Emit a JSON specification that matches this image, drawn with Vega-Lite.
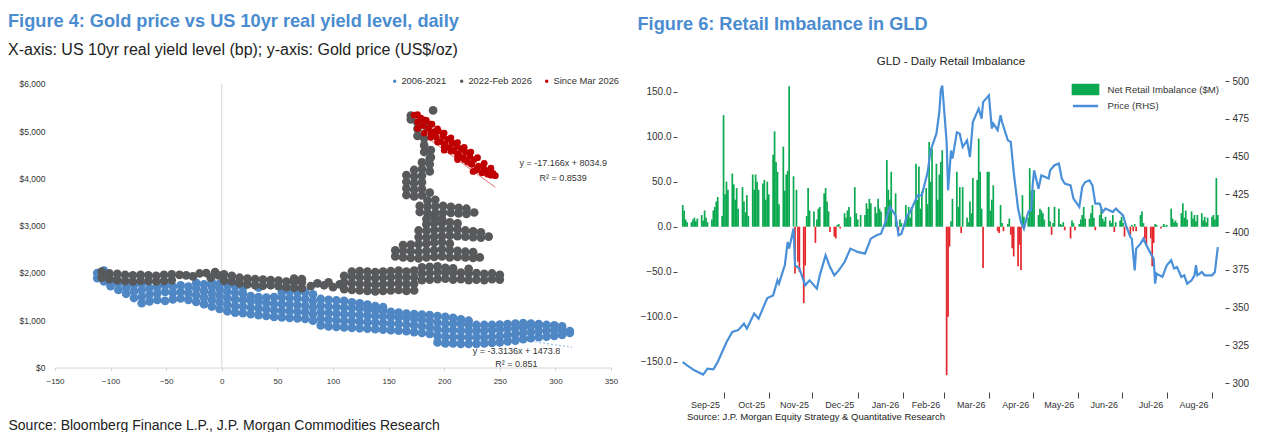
{
  "$schema": "https://vega.github.io/schema/vega-lite/v6.json",
  "background": "white",
  "padding": {"left": 8, "top": 11, "right": 0, "bottom": 0},
  "spacing": 17,
  "resolve": {"scale": {"color": "independent"}, "legend": {"color": "independent"}},
  "config": {
    "view": {"stroke": null},
    "font": "Liberation Sans, Arial, sans-serif",
    "axis": {"grid": false, "labelColor": "#333333", "titleColor": "#222222", "titleFontWeight": "normal", "labelFont": "Liberation Sans, Arial, sans-serif", "titleFont": "Liberation Sans, Arial, sans-serif"},
    "title": {"anchor": "start", "color": "#4a8ccf", "fontWeight": "bold", "fontSize": 18.2, "font": "Liberation Sans, Arial, sans-serif", "subtitleFont": "Liberation Sans, Arial, sans-serif", "subtitleFontSize": 16, "subtitleColor": "#222222"},
    "legend": {"labelFont": "Liberation Sans, Arial, sans-serif", "labelColor": "#333333"}
  },
  "hconcat": [
    {
      "title": {"text": "Figure 4: Gold price vs US 10yr real yield level, daily", "subtitle": "X-axis: US 10yr real yield level (bp); y-axis: Gold price (US$/oz)", "subtitlePadding": 11, "offset": 17},
      "width": 556,
      "height": 286.5,
      "layer": [
        {
          "data": {"values": [{}]},
          "mark": {"type": "rule", "color": "#d4d4d4", "strokeWidth": 1},
          "encoding": {"x": {"datum": 0, "type": "quantitative"}, "y": {"datum": 0, "type": "quantitative"}, "y2": {"datum": 6000}}
        },
        {
          "data": {"values": [{"x": -110, "y": 1838}, {"x": 315, "y": 430}]},
          "mark": {"type": "line", "color": "#9cc2e8", "strokeDash": [2, 2], "strokeWidth": 1.2},
          "encoding": {"x": {"field": "x", "type": "quantitative"}, "y": {"field": "y", "type": "quantitative"}}
        },
        {
          "data": {"values": [{"x": 173, "y": 5065}, {"x": 246, "y": 3812}]},
          "mark": {"type": "line", "color": "#e07070", "strokeWidth": 1},
          "encoding": {"x": {"field": "x", "type": "quantitative"}, "y": {"field": "y", "type": "quantitative"}}
        },
        {
          "data": {"values": [
            {"x":-112,"y":1890},{"x":-112,"y":2000},
            {"x":-106,"y":1820},{"x":-106,"y":1960},{"x":-106,"y":2050},
            {"x":-100,"y":1720},{"x":-100,"y":1850},
            {"x":-93,"y":1640},{"x":-93,"y":1780},
            {"x":-86,"y":1560},{"x":-86,"y":1690},{"x":-86,"y":1810},
            {"x":-79,"y":1470},{"x":-79,"y":1610},{"x":-79,"y":1750},
            {"x":-72,"y":1360},{"x":-72,"y":1500},{"x":-72,"y":1640},{"x":-72,"y":1770},
            {"x":-65,"y":1400},{"x":-65,"y":1540},{"x":-65,"y":1680},
            {"x":-58,"y":1430},{"x":-58,"y":1570},{"x":-58,"y":1710},
            {"x":-51,"y":1410},{"x":-51,"y":1600},{"x":-51,"y":1740},
            {"x":-44,"y":1440},{"x":-44,"y":1580},{"x":-44,"y":1710},
            {"x":-37,"y":1460},{"x":-37,"y":1600},{"x":-37,"y":1740},
            {"x":-30,"y":1430},{"x":-30,"y":1570},{"x":-30,"y":1710},
            {"x":-23,"y":1390},{"x":-23,"y":1530},{"x":-23,"y":1670},{"x":-23,"y":1790},
            {"x":-16,"y":1340},{"x":-16,"y":1480},{"x":-16,"y":1620},{"x":-16,"y":1760},
            {"x":-9,"y":1290},{"x":-9,"y":1430},{"x":-9,"y":1570},{"x":-9,"y":1710},{"x":-9,"y":1800},
            {"x":-2,"y":1240},{"x":-2,"y":1380},{"x":-2,"y":1520},{"x":-2,"y":1660},{"x":-2,"y":1770},
            {"x":5,"y":1190},{"x":5,"y":1330},{"x":5,"y":1470},{"x":5,"y":1610},{"x":5,"y":1750},
            {"x":12,"y":1160},{"x":12,"y":1300},{"x":12,"y":1440},{"x":12,"y":1580},{"x":12,"y":1720},
            {"x":19,"y":1150},{"x":19,"y":1290},{"x":19,"y":1430},{"x":19,"y":1570},{"x":19,"y":1690},
            {"x":26,"y":1130},{"x":26,"y":1270},{"x":26,"y":1410},{"x":26,"y":1510},
            {"x":33,"y":1110},{"x":33,"y":1250},{"x":33,"y":1390},{"x":33,"y":1490},{"x":33,"y":1690},
            {"x":40,"y":1090},{"x":40,"y":1230},{"x":40,"y":1370},{"x":40,"y":1480},
            {"x":47,"y":1070},{"x":47,"y":1210},{"x":47,"y":1350},{"x":47,"y":1490},
            {"x":54,"y":1060},{"x":54,"y":1200},{"x":54,"y":1340},{"x":54,"y":1480},{"x":54,"y":1590},
            {"x":61,"y":1050},{"x":61,"y":1190},{"x":61,"y":1330},{"x":61,"y":1470},{"x":61,"y":1610},
            {"x":68,"y":1040},{"x":68,"y":1180},{"x":68,"y":1320},{"x":68,"y":1460},{"x":68,"y":1590},
            {"x":75,"y":1030},{"x":75,"y":1170},{"x":75,"y":1310},{"x":75,"y":1450},{"x":75,"y":1590},
            {"x":82,"y":990},{"x":82,"y":1130},{"x":82,"y":1270},{"x":82,"y":1410},{"x":82,"y":1550},
            {"x":89,"y":890},{"x":89,"y":1030},{"x":89,"y":1170},{"x":89,"y":1310},{"x":89,"y":1450},
            {"x":96,"y":870},{"x":96,"y":1010},{"x":96,"y":1150},{"x":96,"y":1290},{"x":96,"y":1430},
            {"x":103,"y":860},{"x":103,"y":1000},{"x":103,"y":1140},{"x":103,"y":1280},{"x":103,"y":1420},
            {"x":110,"y":850},{"x":110,"y":990},{"x":110,"y":1130},{"x":110,"y":1270},{"x":110,"y":1410},
            {"x":117,"y":840},{"x":117,"y":980},{"x":117,"y":1120},{"x":117,"y":1260},{"x":117,"y":1380},
            {"x":124,"y":830},{"x":124,"y":970},{"x":124,"y":1110},{"x":124,"y":1250},{"x":124,"y":1360},
            {"x":131,"y":820},{"x":131,"y":960},{"x":131,"y":1100},{"x":131,"y":1230},{"x":131,"y":1330},
            {"x":138,"y":810},{"x":138,"y":950},{"x":138,"y":1090},{"x":138,"y":1210},{"x":138,"y":1300},
            {"x":145,"y":800},{"x":145,"y":940},{"x":145,"y":1080},{"x":145,"y":1200},{"x":145,"y":1280},
            {"x":152,"y":790},{"x":152,"y":930},{"x":152,"y":1070},{"x":152,"y":1180},
            {"x":159,"y":780},{"x":159,"y":920},{"x":159,"y":1060},{"x":159,"y":1160},
            {"x":166,"y":770},{"x":166,"y":910},{"x":166,"y":1050},{"x":166,"y":1140},
            {"x":173,"y":750},{"x":173,"y":890},{"x":173,"y":1030},{"x":173,"y":1130},
            {"x":180,"y":730},{"x":180,"y":870},{"x":180,"y":1010},{"x":180,"y":1120},
            {"x":187,"y":710},{"x":187,"y":850},{"x":187,"y":990},{"x":187,"y":1110},
            {"x":194,"y":530},{"x":194,"y":670},{"x":194,"y":810},{"x":194,"y":950},{"x":194,"y":1090},
            {"x":201,"y":510},{"x":201,"y":650},{"x":201,"y":790},{"x":201,"y":930},{"x":201,"y":1070},
            {"x":208,"y":510},{"x":208,"y":650},{"x":208,"y":790},{"x":208,"y":930},{"x":208,"y":1050},
            {"x":215,"y":500},{"x":215,"y":640},{"x":215,"y":780},{"x":215,"y":920},{"x":215,"y":1020},
            {"x":222,"y":500},{"x":222,"y":640},{"x":222,"y":780},{"x":222,"y":900},{"x":222,"y":990},
            {"x":229,"y":500},{"x":229,"y":640},{"x":229,"y":780},{"x":229,"y":900},
            {"x":236,"y":510},{"x":236,"y":640},{"x":236,"y":780},{"x":236,"y":900},
            {"x":243,"y":520},{"x":243,"y":650},{"x":243,"y":790},{"x":243,"y":900},
            {"x":250,"y":530},{"x":250,"y":660},{"x":250,"y":800},{"x":250,"y":910},
            {"x":257,"y":550},{"x":257,"y":680},{"x":257,"y":820},{"x":257,"y":920},
            {"x":264,"y":570},{"x":264,"y":700},{"x":264,"y":830},{"x":264,"y":930},
            {"x":271,"y":600},{"x":271,"y":730},{"x":271,"y":850},{"x":271,"y":940},
            {"x":278,"y":620},{"x":278,"y":750},{"x":278,"y":870},{"x":278,"y":930},
            {"x":285,"y":640},{"x":285,"y":770},{"x":285,"y":890},{"x":285,"y":920},
            {"x":292,"y":650},{"x":292,"y":780},{"x":292,"y":900},
            {"x":299,"y":670},{"x":299,"y":790},{"x":299,"y":890},
            {"x":306,"y":690},{"x":306,"y":800},{"x":306,"y":870},
            {"x":313,"y":730},{"x":313,"y":770}
          ]},
          "mark": {"type": "circle", "size": 76, "opacity": 1},
          "encoding": {
            "x": {"field": "x", "type": "quantitative", "scale": {"domain": [-150, 350], "nice": false, "zero": false},
              "axis": {"values": [-150, -100, -50, 0, 50, 100, 150, 200, 250, 300, 350], "domainColor": "#d4d4d4", "tickColor": "#d4d4d4", "tickSize": 3, "labelFontSize": 8, "labelPadding": 7, "labelFlush": false,
                "title": "Source: Bloomberg Finance L.P., J.P. Morgan Commodities Research", "titleFontSize": 14, "titleAnchor": "start", "titleAlign": "left", "titleBaseline": "middle", "titleX": -47, "titleY": 57.5}},
            "y": {"field": "y", "type": "quantitative", "scale": {"domain": [0, 6063], "nice": false},
              "axis": {"values": [0, 1000, 2000, 3000, 4000, 5000, 6000], "format": "$,.0f", "domain": false, "ticks": false, "labelPadding": 10, "labelFontSize": 8.5, "minExtent": 47, "maxExtent": 47, "title": null}},
            "color": {"datum": "2006-2021", "type": "nominal",
              "scale": {"domain": ["2006-2021", "2022-Feb 2026", "Since Mar 2026"], "range": ["#4f87c4", "#58595b", "#c00000"]},
              "legend": {"title": null, "orient": "none", "legendX": 335, "legendY": -5, "direction": "horizontal", "symbolType": "circle", "symbolSize": 12, "labelFontSize": 9.4, "labelOffset": 2, "columnPadding": 10, "padding": 0}}
          }
        },
        {
          "data": {"values": [
            {"x":-108,"y":1900},{"x":-108,"y":2030},{"x":-101,"y":1870},{"x":-101,"y":1990},
            {"x":-94,"y":1850},{"x":-94,"y":1980},{"x":-87,"y":1830},{"x":-87,"y":1960},
            {"x":-80,"y":1820},{"x":-80,"y":1950},{"x":-73,"y":1840},{"x":-73,"y":1960},
            {"x":-66,"y":1830},{"x":-66,"y":1950},{"x":-59,"y":1820},{"x":-59,"y":1940},
            {"x":-52,"y":1830},{"x":-52,"y":1960},{"x":-45,"y":1850},{"x":-45,"y":1970},
            {"x":-38,"y":1960},{"x":-32,"y":1950},{"x":-26,"y":1930},{"x":-20,"y":1990},
            {"x":-14,"y":2000},{"x":-10,"y":1900},{"x":-6,"y":2020},{"x":-3,"y":1950},
            {"x":2,"y":1840},{"x":2,"y":1970},{"x":9,"y":1820},{"x":9,"y":1940},
            {"x":16,"y":1780},{"x":16,"y":1900},{"x":23,"y":1760},{"x":23,"y":1880},
            {"x":30,"y":1740},{"x":30,"y":1870},{"x":37,"y":1730},{"x":37,"y":1860},
            {"x":44,"y":1740},{"x":44,"y":1850},{"x":51,"y":1720},{"x":51,"y":1840},
            {"x":58,"y":1700},{"x":58,"y":1820},{"x":65,"y":1690},{"x":65,"y":1810},{"x":65,"y":1880},
            {"x":72,"y":1680},{"x":72,"y":1800},{"x":72,"y":1870},
            {"x":80,"y":1720},{"x":86,"y":1780},{"x":92,"y":1740},{"x":96,"y":1800},{"x":100,"y":1700},{"x":106,"y":1760},
            {"x":110,"y":1660},{"x":110,"y":1800},{"x":110,"y":1940},
            {"x":117,"y":1640},{"x":117,"y":1780},{"x":117,"y":1920},{"x":117,"y":2030},
            {"x":124,"y":1630},{"x":124,"y":1770},{"x":124,"y":1910},{"x":124,"y":2040},
            {"x":131,"y":1620},{"x":131,"y":1760},{"x":131,"y":1900},{"x":131,"y":2030},
            {"x":138,"y":1610},{"x":138,"y":1750},{"x":138,"y":1890},{"x":138,"y":2020},
            {"x":145,"y":1620},{"x":145,"y":1760},{"x":145,"y":1900},{"x":145,"y":2030},
            {"x":152,"y":1630},{"x":152,"y":1770},{"x":152,"y":1910},{"x":152,"y":2040},
            {"x":159,"y":1640},{"x":159,"y":1780},{"x":159,"y":1920},{"x":159,"y":2050},
            {"x":166,"y":1620},{"x":166,"y":1760},{"x":166,"y":1900},{"x":166,"y":2030},
            {"x":173,"y":1630},{"x":173,"y":1770},{"x":173,"y":1910},{"x":173,"y":2050},
            {"x":180,"y":1850},{"x":180,"y":1990},{"x":180,"y":2120},
            {"x":187,"y":1860},{"x":187,"y":2000},{"x":187,"y":2130},
            {"x":194,"y":1870},{"x":194,"y":2010},{"x":194,"y":2140},
            {"x":201,"y":1880},{"x":201,"y":2020},{"x":201,"y":2110},
            {"x":208,"y":1860},{"x":208,"y":2000},{"x":208,"y":2100},
            {"x":215,"y":1870},{"x":215,"y":2010},
            {"x":222,"y":1850},{"x":222,"y":1990},{"x":222,"y":2090},
            {"x":229,"y":1860},{"x":229,"y":2000},{"x":236,"y":1850},{"x":236,"y":1980},
            {"x":243,"y":1870},{"x":243,"y":1990},{"x":250,"y":1860},{"x":250,"y":1960},
            {"x":156,"y":2350},{"x":156,"y":2480},
            {"x":163,"y":2330},{"x":163,"y":2470},{"x":163,"y":2590},
            {"x":170,"y":2320},{"x":170,"y":2460},{"x":170,"y":2600},
            {"x":177,"y":2310},{"x":177,"y":2450},{"x":177,"y":2610},
            {"x":184,"y":2330},{"x":184,"y":2470},{"x":184,"y":2620},
            {"x":191,"y":2340},{"x":191,"y":2480},{"x":191,"y":2640},
            {"x":198,"y":2350},{"x":198,"y":2500},{"x":198,"y":2650},
            {"x":205,"y":2330},{"x":205,"y":2480},{"x":205,"y":2620},
            {"x":212,"y":2340},{"x":212,"y":2470},{"x":219,"y":2330},{"x":219,"y":2450},
            {"x":226,"y":2320},{"x":226,"y":2440},{"x":232,"y":2330},
            {"x":177,"y":2760},{"x":177,"y":2900},
            {"x":184,"y":2750},{"x":184,"y":2890},{"x":184,"y":3030},{"x":184,"y":3140},
            {"x":191,"y":2770},{"x":191,"y":2910},{"x":191,"y":3050},{"x":191,"y":3160},
            {"x":198,"y":2780},{"x":198,"y":2920},{"x":198,"y":3060},{"x":198,"y":3150},
            {"x":205,"y":2790},{"x":205,"y":2930},{"x":205,"y":3070},
            {"x":212,"y":2780},{"x":212,"y":2920},{"x":212,"y":3050},
            {"x":219,"y":2770},{"x":219,"y":2900},{"x":226,"y":2760},{"x":226,"y":2880},
            {"x":233,"y":2750},{"x":233,"y":2860},{"x":240,"y":2770},
            {"x":178,"y":3290},{"x":178,"y":3420},
            {"x":185,"y":3260},{"x":185,"y":3400},{"x":185,"y":3530},
            {"x":192,"y":3270},{"x":192,"y":3410},{"x":192,"y":3550},
            {"x":199,"y":3280},{"x":199,"y":3420},{"x":206,"y":3270},{"x":206,"y":3400},
            {"x":213,"y":3260},{"x":213,"y":3380},{"x":220,"y":3250},{"x":220,"y":3360},{"x":227,"y":3280},
            {"x":166,"y":3650},{"x":166,"y":3790},{"x":166,"y":3930},{"x":166,"y":4070},
            {"x":173,"y":3620},{"x":173,"y":3760},{"x":173,"y":3900},{"x":173,"y":4040},{"x":173,"y":4180},
            {"x":180,"y":3640},{"x":180,"y":3780},{"x":180,"y":3920},{"x":180,"y":4060},{"x":180,"y":4200},{"x":180,"y":4340},
            {"x":187,"y":3700},{"x":187,"y":4150},{"x":187,"y":4300},{"x":187,"y":4420},
            {"x":170,"y":5330},{"x":170,"y":5250},{"x":176,"y":5180},{"x":176,"y":5050},{"x":176,"y":4900},
            {"x":182,"y":4560},{"x":182,"y":4700},{"x":182,"y":4850},{"x":188,"y":4450},{"x":188,"y":4600},
            {"x":184,"y":5100},{"x":190,"y":5440}
          ]},
          "mark": {"type": "circle", "size": 76, "opacity": 1},
          "encoding": {
            "x": {"field": "x", "type": "quantitative"},
            "y": {"field": "y", "type": "quantitative"},
            "color": {"datum": "2022-Feb 2026", "type": "nominal"}
          }
        },
        {
          "data": {"values": [
            {"x":173,"y":5340},{"x":176,"y":5200},{"x":179,"y":5280},{"x":181,"y":5120},{"x":184,"y":5230},
            {"x":186,"y":5060},{"x":189,"y":5150},{"x":191,"y":4990},{"x":193,"y":4870},{"x":195,"y":5000},
            {"x":197,"y":4780},{"x":199,"y":4900},{"x":201,"y":4720},{"x":203,"y":4830},{"x":205,"y":4650},
            {"x":207,"y":4760},{"x":209,"y":4580},{"x":211,"y":4690},{"x":213,"y":4520},{"x":215,"y":4630},
            {"x":217,"y":4440},{"x":219,"y":4560},{"x":221,"y":4350},{"x":223,"y":4470},{"x":225,"y":4300},
            {"x":227,"y":4400},{"x":229,"y":4180},{"x":231,"y":4260},{"x":234,"y":4120},{"x":236,"y":4200},
            {"x":239,"y":4090},{"x":241,"y":4170},{"x":244,"y":4110},{"x":246,"y":4060},{"x":188,"y":4950},
            {"x":200,"y":4600},{"x":212,"y":4400},{"x":226,"y":4150},
            {"x":176,"y":5350},{"x":176,"y":5060},{"x":182,"y":5240},{"x":182,"y":4960},{"x":188,"y":5150},{"x":188,"y":4870},
            {"x":194,"y":5050},{"x":194,"y":4770},{"x":200,"y":4960},{"x":200,"y":4680},{"x":206,"y":4860},{"x":206,"y":4580},
            {"x":212,"y":4760},{"x":212,"y":4480},{"x":218,"y":4660},{"x":218,"y":4400},{"x":224,"y":4560},{"x":224,"y":4310},
            {"x":230,"y":4440},{"x":230,"y":4220},{"x":236,"y":4320},{"x":236,"y":4140},{"x":242,"y":4220},{"x":242,"y":4070}
          ]},
          "mark": {"type": "circle", "size": 45, "opacity": 1},
          "encoding": {
            "x": {"field": "x", "type": "quantitative"},
            "y": {"field": "y", "type": "quantitative"},
            "color": {"datum": "Since Mar 2026", "type": "nominal"}
          }
        },
        {
          "data": {"values": [{}]},
          "mark": {"type": "text", "fontSize": 9, "color": "#333333"},
          "encoding": {"x": {"datum": 307, "type": "quantitative"}, "y": {"datum": 4323, "type": "quantitative"}, "text": {"value": "y = -17.166x + 8034.9"}}
        },
        {
          "data": {"values": [{}]},
          "mark": {"type": "text", "fontSize": 9, "color": "#333333"},
          "encoding": {"x": {"datum": 307, "type": "quantitative"}, "y": {"datum": 4006, "type": "quantitative"}, "text": {"value": "R² = 0.8539"}}
        },
        {
          "data": {"values": [{}]},
          "mark": {"type": "text", "fontSize": 9, "color": "#333333"},
          "encoding": {"x": {"datum": 265, "type": "quantitative"}, "y": {"datum": 349, "type": "quantitative"}, "text": {"value": "y = -3.3136x + 1473.8"}}
        },
        {
          "data": {"values": [{}]},
          "mark": {"type": "text", "fontSize": 9, "color": "#333333"},
          "encoding": {"x": {"datum": 265, "type": "quantitative"}, "y": {"datum": 74, "type": "quantitative"}, "text": {"value": "R² = 0.851"}}
        }
      ]
    },
    {
      "title": {"text": "Figure 6: Retail Imbalance in GLD", "offset": 22},
      "vconcat": [
        {
          "title": {"text": "GLD - Daily Retail Imbalance", "anchor": "middle", "frame": "group", "fontSize": 11.5, "fontWeight": "normal", "color": "#222222", "offset": 8.5},
          "width": 548,
          "height": 302,
          "layer": [
            {
              "data": {"values": [
                {"d":"2025-09-02","v":24},{"d":"2025-09-03","v":18},{"d":"2025-09-04","v":8},{"d":"2025-09-05","v":5},
                {"d":"2025-09-08","v":5},{"d":"2025-09-09","v":8},{"d":"2025-09-10","v":10},{"d":"2025-09-11","v":6},{"d":"2025-09-12","v":9},
                {"d":"2025-09-15","v":13},{"d":"2025-09-16","v":7},{"d":"2025-09-17","v":18},{"d":"2025-09-18","v":10},{"d":"2025-09-19","v":5},
                {"d":"2025-09-22","v":8},{"d":"2025-09-23","v":18},{"d":"2025-09-24","v":22},{"d":"2025-09-25","v":28},{"d":"2025-09-26","v":33},
                {"d":"2025-09-29","v":12},{"d":"2025-09-30","v":124},{"d":"2025-10-01","v":36},{"d":"2025-10-02","v":50},{"d":"2025-10-03","v":41},
                {"d":"2025-10-06","v":59},{"d":"2025-10-07","v":47},{"d":"2025-10-08","v":30},{"d":"2025-10-09","v":43},{"d":"2025-10-10","v":20},
                {"d":"2025-10-13","v":44},{"d":"2025-10-14","v":28},{"d":"2025-10-15","v":16},{"d":"2025-10-16","v":35},{"d":"2025-10-17","v":12},
                {"d":"2025-10-20","v":58},{"d":"2025-10-21","v":41},{"d":"2025-10-22","v":58},{"d":"2025-10-23","v":50},{"d":"2025-10-24","v":41},
                {"d":"2025-10-27","v":48},{"d":"2025-10-28","v":52},{"d":"2025-10-29","v":30},{"d":"2025-10-30","v":50},{"d":"2025-10-31","v":36},
                {"d":"2025-11-03","v":80},{"d":"2025-11-04","v":106},{"d":"2025-11-05","v":72},{"d":"2025-11-06","v":61},{"d":"2025-11-07","v":25},
                {"d":"2025-11-10","v":89},{"d":"2025-11-11","v":40},{"d":"2025-11-12","v":58},{"d":"2025-11-13","v":62},{"d":"2025-11-14","v":156},
                {"d":"2025-11-17","v":56},{"d":"2025-11-18","v":-52},{"d":"2025-11-19","v":41},{"d":"2025-11-20","v":-39},{"d":"2025-11-21","v":-50},
                {"d":"2025-11-24","v":-85},{"d":"2025-11-25","v":-43},{"d":"2025-11-26","v":12},{"d":"2025-11-27","v":43},{"d":"2025-11-28","v":18},
                {"d":"2025-12-01","v":17},{"d":"2025-12-02","v":-18},{"d":"2025-12-03","v":8},{"d":"2025-12-04","v":20},{"d":"2025-12-05","v":22},
                {"d":"2025-12-08","v":37},{"d":"2025-12-09","v":43},{"d":"2025-12-10","v":28},{"d":"2025-12-11","v":17},{"d":"2025-12-12","v":-6},
                {"d":"2025-12-15","v":-11},{"d":"2025-12-16","v":-13},{"d":"2025-12-17","v":2},{"d":"2025-12-18","v":3},{"d":"2025-12-19","v":-2},
                {"d":"2025-12-22","v":15},{"d":"2025-12-23","v":10},{"d":"2025-12-24","v":18},{"d":"2025-12-25","v":22},{"d":"2025-12-26","v":11},
                {"d":"2025-12-29","v":44},{"d":"2025-12-30","v":15},{"d":"2025-12-31","v":8},{"d":"2026-01-02","v":13},
                {"d":"2026-01-05","v":13},{"d":"2026-01-06","v":26},{"d":"2026-01-07","v":20},{"d":"2026-01-08","v":31},{"d":"2026-01-09","v":26},
                {"d":"2026-01-12","v":22},{"d":"2026-01-13","v":15},{"d":"2026-01-14","v":31},{"d":"2026-01-15","v":20},{"d":"2026-01-16","v":17},
                {"d":"2026-01-19","v":22},{"d":"2026-01-20","v":74},{"d":"2026-01-21","v":41},{"d":"2026-01-22","v":30},{"d":"2026-01-23","v":61},
                {"d":"2026-01-26","v":37},{"d":"2026-01-27","v":5},{"d":"2026-01-28","v":-5},{"d":"2026-01-29","v":8},{"d":"2026-01-30","v":4},
                {"d":"2026-02-02","v":24},{"d":"2026-02-03","v":12},{"d":"2026-02-04","v":22},{"d":"2026-02-05","v":10},{"d":"2026-02-06","v":22},
                {"d":"2026-02-09","v":70},{"d":"2026-02-10","v":30},{"d":"2026-02-11","v":67},{"d":"2026-02-12","v":20},{"d":"2026-02-13","v":39},
                {"d":"2026-02-16","v":43},{"d":"2026-02-17","v":25},{"d":"2026-02-18","v":94},{"d":"2026-02-19","v":50},{"d":"2026-02-20","v":87},
                {"d":"2026-02-23","v":70},{"d":"2026-02-24","v":30},{"d":"2026-02-25","v":58},{"d":"2026-02-26","v":72},{"d":"2026-02-27","v":85},
                {"d":"2026-03-02","v":-165},{"d":"2026-03-03","v":-100},{"d":"2026-03-04","v":-22},{"d":"2026-03-05","v":6},{"d":"2026-03-06","v":31},
                {"d":"2026-03-09","v":61},{"d":"2026-03-10","v":22},{"d":"2026-03-11","v":44},{"d":"2026-03-12","v":-7},{"d":"2026-03-13","v":44},
                {"d":"2026-03-16","v":10},{"d":"2026-03-17","v":5},{"d":"2026-03-18","v":28},{"d":"2026-03-19","v":15},{"d":"2026-03-20","v":54},
                {"d":"2026-03-23","v":52},{"d":"2026-03-24","v":98},{"d":"2026-03-25","v":61},{"d":"2026-03-26","v":20},{"d":"2026-03-27","v":-46},
                {"d":"2026-03-30","v":61},{"d":"2026-03-31","v":61},{"d":"2026-04-01","v":18},{"d":"2026-04-02","v":30},{"d":"2026-04-03","v":46},
                {"d":"2026-04-06","v":-5},{"d":"2026-04-07","v":-7},{"d":"2026-04-08","v":24},{"d":"2026-04-09","v":4},{"d":"2026-04-10","v":-5},
                {"d":"2026-04-13","v":3},{"d":"2026-04-14","v":9},{"d":"2026-04-15","v":-9},{"d":"2026-04-16","v":-24},{"d":"2026-04-17","v":-33},
                {"d":"2026-04-20","v":-44},{"d":"2026-04-21","v":-20},{"d":"2026-04-22","v":-48},{"d":"2026-04-23","v":35},{"d":"2026-04-24","v":11},
                {"d":"2026-04-27","v":10},{"d":"2026-04-28","v":65},{"d":"2026-04-29","v":40},{"d":"2026-04-30","v":31},{"d":"2026-05-01","v":41},
                {"d":"2026-05-04","v":13},{"d":"2026-05-05","v":20},{"d":"2026-05-06","v":18},{"d":"2026-05-07","v":15},{"d":"2026-05-08","v":8},
                {"d":"2026-05-11","v":22},{"d":"2026-05-12","v":6},{"d":"2026-05-13","v":-9},{"d":"2026-05-14","v":4},{"d":"2026-05-15","v":22},
                {"d":"2026-05-18","v":20},{"d":"2026-05-19","v":3},{"d":"2026-05-20","v":2},{"d":"2026-05-21","v":5},{"d":"2026-05-22","v":-4},
                {"d":"2026-05-26","v":-13},{"d":"2026-05-27","v":7},{"d":"2026-05-28","v":4},{"d":"2026-05-29","v":-4},
                {"d":"2026-06-01","v":3},{"d":"2026-06-02","v":8},{"d":"2026-06-03","v":13},{"d":"2026-06-04","v":22},{"d":"2026-06-05","v":9},
                {"d":"2026-06-08","v":9},{"d":"2026-06-09","v":15},{"d":"2026-06-10","v":24},{"d":"2026-06-11","v":10},{"d":"2026-06-12","v":-4},
                {"d":"2026-06-15","v":13},{"d":"2026-06-16","v":20},{"d":"2026-06-17","v":9},{"d":"2026-06-18","v":6},{"d":"2026-06-19","v":11},
                {"d":"2026-06-22","v":7},{"d":"2026-06-23","v":4},{"d":"2026-06-24","v":13},{"d":"2026-06-25","v":-6},{"d":"2026-06-26","v":5},
                {"d":"2026-06-29","v":7},{"d":"2026-06-30","v":11},{"d":"2026-07-01","v":4},{"d":"2026-07-02","v":-11},{"d":"2026-07-03","v":2},
                {"d":"2026-07-06","v":-9},{"d":"2026-07-07","v":2},{"d":"2026-07-08","v":-5},{"d":"2026-07-09","v":3},{"d":"2026-07-10","v":-5},
                {"d":"2026-07-13","v":13},{"d":"2026-07-14","v":17},{"d":"2026-07-15","v":4},{"d":"2026-07-16","v":-13},{"d":"2026-07-17","v":-20},
                {"d":"2026-07-20","v":-13},{"d":"2026-07-21","v":-44},{"d":"2026-07-22","v":-18},{"d":"2026-07-23","v":3},{"d":"2026-07-24","v":2},
                {"d":"2026-07-27","v":-2},{"d":"2026-07-28","v":1},{"d":"2026-07-29","v":3},{"d":"2026-07-30","v":1},{"d":"2026-07-31","v":2},
                {"d":"2026-08-03","v":20},{"d":"2026-08-04","v":9},{"d":"2026-08-05","v":5},{"d":"2026-08-06","v":7},{"d":"2026-08-07","v":4},
                {"d":"2026-08-10","v":15},{"d":"2026-08-11","v":26},{"d":"2026-08-12","v":10},{"d":"2026-08-13","v":18},{"d":"2026-08-14","v":8},
                {"d":"2026-08-17","v":17},{"d":"2026-08-18","v":9},{"d":"2026-08-19","v":13},{"d":"2026-08-20","v":6},{"d":"2026-08-21","v":13},
                {"d":"2026-08-24","v":15},{"d":"2026-08-25","v":7},{"d":"2026-08-26","v":11},{"d":"2026-08-27","v":5},{"d":"2026-08-28","v":10},
                {"d":"2026-08-31","v":11},{"d":"2026-09-01","v":13},{"d":"2026-09-02","v":8},{"d":"2026-09-03","v":54},{"d":"2026-09-04","v":13}
              ]},
              "mark": {"type": "bar", "width": 1.7},
              "encoding": {
                "x": {"field": "d", "type": "temporal",
                  "scale": {"type": "utc", "domain": [{"year": 2025, "month": 9, "date": 1, "hours": 12, "utc": true}, {"year": 2026, "month": 9, "date": 5, "hours": 12, "utc": true}]},
                  "axis": {"values": [
                      {"year": 2025, "month": 9, "date": 30, "utc": true}, {"year": 2025, "month": 10, "date": 31, "utc": true},
                      {"year": 2025, "month": 11, "date": 30, "utc": true}, {"year": 2025, "month": 12, "date": 31, "utc": true},
                      {"year": 2026, "month": 1, "date": 31, "utc": true}, {"year": 2026, "month": 2, "date": 28, "utc": true},
                      {"year": 2026, "month": 3, "date": 31, "utc": true}, {"year": 2026, "month": 4, "date": 30, "utc": true},
                      {"year": 2026, "month": 5, "date": 31, "utc": true}, {"year": 2026, "month": 6, "date": 30, "utc": true},
                      {"year": 2026, "month": 7, "date": 31, "utc": true}, {"year": 2026, "month": 8, "date": 31, "utc": true}],
                    "labelExpr": "utcFormat(datum.value, '%b-%y')", "domain": false, "tickSize": 6, "tickColor": "#444444", "offset": 9, "labelPadding": 2,
                    "labelAlign": "right", "labelOffset": -4, "labelFontSize": 9, "labelFlush": false,
                    "title": "Source: J.P. Morgan Equity Strategy & Quantitative Research", "titleFontSize": 9.5, "titleAnchor": "start", "titleAlign": "left", "titleBaseline": "middle", "titleX": 9.5, "titleY": 24.7}},
                "y": {"field": "v", "type": "quantitative", "scale": {"domain": [-173.7, 161.9], "nice": false, "zero": false},
                  "axis": {"values": [-150, -100, -50, 0, 50, 100, 150], "format": ".1f", "domain": false, "tickSize": 4, "tickColor": "#444444", "labelPadding": 2, "labelFontSize": 10, "title": null, "minExtent": 39.5, "maxExtent": 39.5}},
                "color": {"datum": "Net Retail Imbalance ($M)", "type": "nominal",
                  "condition": {"test": "datum.v < 0", "value": "#e3262b"},
                  "scale": {"domain": ["Net Retail Imbalance ($M)", "Price (RHS)"], "range": ["#0aa84f", "#4a90d9"]},
                  "legend": {"title": null, "orient": "none", "legendX": 402.5, "legendY": 2.5, "padding": 0, "labelFontSize": 9.6, "labelOffset": 16, "rowPadding": 0.5, "symbolSize": 81,
                    "encode": {"symbols": {"update": {
                      "shape": {"signal": "datum.value === 'Price (RHS)' ? 'M-2.8,0H2.8' : 'M-2.8,-1H2.8V1H-2.8Z'"},
                      "fill": {"signal": "datum.value === 'Price (RHS)' ? 'transparent' : '#0aa84f'"},
                      "stroke": {"signal": "datum.value === 'Price (RHS)' ? '#4a90d9' : 'transparent'"},
                      "strokeWidth": {"value": 2.5},
                      "opacity": {"value": 1}}}}}}
              }
            },
            {
              "data": {"values": [
                {"d":"2025-09-02","p":313.9},{"d":"2025-09-05","p":311.7},{"d":"2025-09-10","p":308.4},{"d":"2025-09-16","p":305.6},
                {"d":"2025-09-19","p":309.5},{"d":"2025-09-23","p":309},{"d":"2025-09-26","p":313.9},{"d":"2025-10-02","p":327},
                {"d":"2025-10-06","p":333.8},{"d":"2025-10-10","p":335},{"d":"2025-10-14","p":339.3},{"d":"2025-10-16","p":336},
                {"d":"2025-10-21","p":346},{"d":"2025-10-24","p":342.6},{"d":"2025-10-30","p":356.3},{"d":"2025-11-03","p":358},
                {"d":"2025-11-06","p":368},{"d":"2025-11-07","p":365.8},{"d":"2025-11-11","p":378},{"d":"2025-11-13","p":393.4},
                {"d":"2025-11-14","p":389},{"d":"2025-11-17","p":402.3},{"d":"2025-11-18","p":378},{"d":"2025-11-21","p":375.8},
                {"d":"2025-11-25","p":364.7},{"d":"2025-11-28","p":368},{"d":"2025-12-03","p":362.5},{"d":"2025-12-05","p":371.3},
                {"d":"2025-12-09","p":384.6},{"d":"2025-12-12","p":376.8},{"d":"2025-12-15","p":371.3},{"d":"2025-12-18","p":374.6},
                {"d":"2025-12-22","p":380.1},{"d":"2025-12-26","p":389},{"d":"2025-12-31","p":386.8},{"d":"2026-01-05","p":385.7},
                {"d":"2026-01-09","p":395.6},{"d":"2026-01-13","p":397.8},{"d":"2026-01-16","p":398.9},{"d":"2026-01-19","p":406.6},
                {"d":"2026-01-22","p":416.6},{"d":"2026-01-26","p":411},{"d":"2026-01-28","p":397.8},{"d":"2026-01-30","p":398.9},
                {"d":"2026-02-03","p":411},{"d":"2026-02-05","p":413.2},{"d":"2026-02-10","p":424.3},{"d":"2026-02-13","p":424.3},
                {"d":"2026-02-17","p":439.7},{"d":"2026-02-19","p":454},{"d":"2026-02-23","p":465.1},{"d":"2026-02-25","p":479.5},
                {"d":"2026-02-26","p":494},{"d":"2026-02-27","p":497},{"d":"2026-03-02","p":459.6},{"d":"2026-03-03","p":427.6},
                {"d":"2026-03-05","p":454},{"d":"2026-03-06","p":448.6},{"d":"2026-03-09","p":466},{"d":"2026-03-11","p":465},
                {"d":"2026-03-13","p":456.3},{"d":"2026-03-16","p":460.7},{"d":"2026-03-18","p":449.7},{"d":"2026-03-20","p":472.8},
                {"d":"2026-03-24","p":481.7},{"d":"2026-03-26","p":475.1},{"d":"2026-03-27","p":486},{"d":"2026-03-31","p":490.5},
                {"d":"2026-04-02","p":468.5},{"d":"2026-04-03","p":471.8},{"d":"2026-04-06","p":467.4},{"d":"2026-04-08","p":477.3},
                {"d":"2026-04-09","p":472.8},{"d":"2026-04-13","p":460.7},{"d":"2026-04-15","p":459.6},{"d":"2026-04-17","p":439.7},
                {"d":"2026-04-20","p":415.5},{"d":"2026-04-22","p":406.6},{"d":"2026-04-24","p":402.2},{"d":"2026-04-27","p":413.2},
                {"d":"2026-04-28","p":414.4},{"d":"2026-04-29","p":414.4},{"d":"2026-04-30","p":430.9},{"d":"2026-05-01","p":440.9},
                {"d":"2026-05-04","p":428.7},{"d":"2026-05-06","p":437.5},{"d":"2026-05-11","p":435.4},{"d":"2026-05-12","p":440.9},
                {"d":"2026-05-15","p":444.2},{"d":"2026-05-18","p":445.3},{"d":"2026-05-20","p":435.4},{"d":"2026-05-22","p":432},
                {"d":"2026-05-26","p":430.9},{"d":"2026-05-28","p":422.1},{"d":"2026-06-01","p":416.6},{"d":"2026-06-03","p":429.8},
                {"d":"2026-06-05","p":433.1},{"d":"2026-06-08","p":434.2},{"d":"2026-06-10","p":430.9},{"d":"2026-06-12","p":418.8},
                {"d":"2026-06-15","p":418.8},{"d":"2026-06-17","p":413.2},{"d":"2026-06-19","p":415.5},{"d":"2026-06-24","p":413.2},
                {"d":"2026-06-26","p":415.5},{"d":"2026-07-01","p":411},{"d":"2026-07-03","p":404.4},{"d":"2026-07-06","p":396.7},
                {"d":"2026-07-07","p":395.6},{"d":"2026-07-09","p":374.6},{"d":"2026-07-10","p":389},{"d":"2026-07-13","p":392.3},
                {"d":"2026-07-15","p":395.6},{"d":"2026-07-17","p":391.2},{"d":"2026-07-20","p":385.7},{"d":"2026-07-22","p":382.4},
                {"d":"2026-07-23","p":365.8},{"d":"2026-07-24","p":372.5},{"d":"2026-07-28","p":370.2},{"d":"2026-07-31","p":378},
                {"d":"2026-08-03","p":381.3},{"d":"2026-08-05","p":375.8},{"d":"2026-08-07","p":376.8},{"d":"2026-08-10","p":370.2},
                {"d":"2026-08-12","p":371.3},{"d":"2026-08-14","p":365.8},{"d":"2026-08-17","p":368},{"d":"2026-08-19","p":371.3},
                {"d":"2026-08-20","p":378},{"d":"2026-08-21","p":371.3},{"d":"2026-08-24","p":373.5},{"d":"2026-08-26","p":371.3},
                {"d":"2026-08-31","p":371.3},{"d":"2026-09-02","p":373.5},{"d":"2026-09-04","p":390}
              ]},
              "mark": {"type": "line", "strokeWidth": 2.2},
              "encoding": {
                "x": {"field": "d", "type": "temporal"},
                "y": {"field": "p", "type": "quantitative", "scale": {"domain": [300, 500], "nice": false, "zero": false},
                  "axis": {"orient": "right", "values": [300, 325, 350, 375, 400, 425, 450, 475, 500], "domain": false, "tickSize": 4, "tickColor": "#444444", "labelPadding": 3, "labelFontSize": 10, "title": null}},
                "color": {"datum": "Price (RHS)", "type": "nominal"}
              }
            }
          ],
          "resolve": {"scale": {"y": "independent"}}
        }
      ]
    }
  ]
}
